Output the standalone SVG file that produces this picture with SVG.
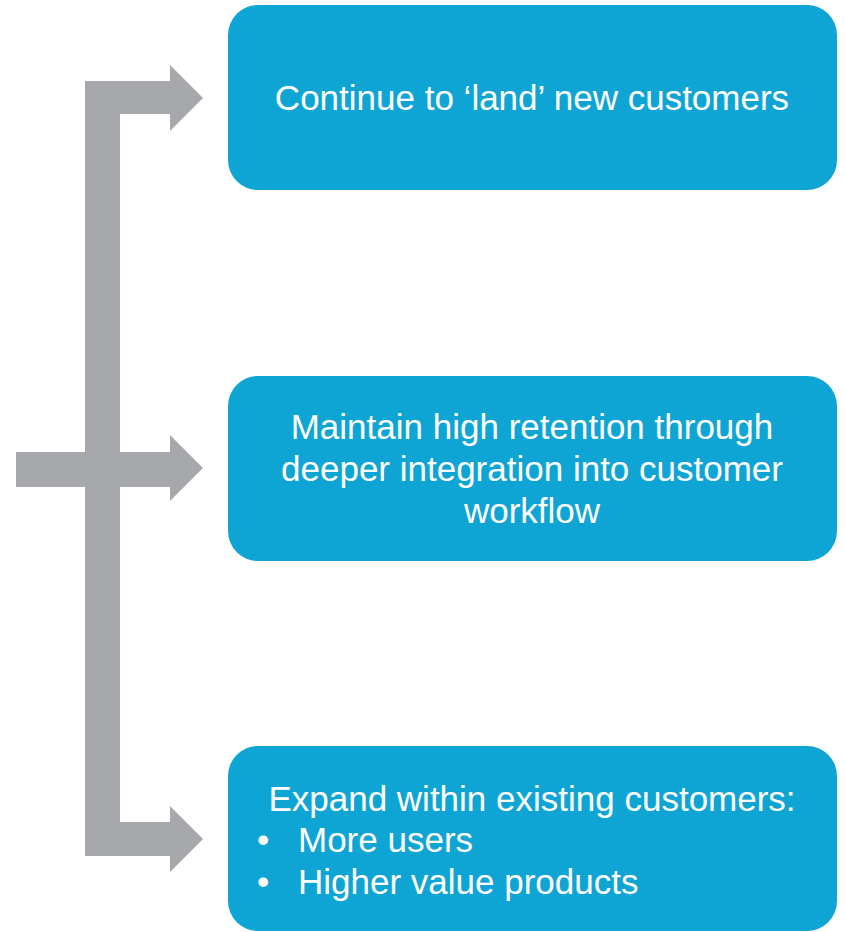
<svg xmlns="http://www.w3.org/2000/svg" width="846" height="932" viewBox="0 0 846 932">
<style>
.box{fill:#0EA5D5;}
.arr{fill:#A7A8AB;}
text{font-family:"Liberation Sans",Arial,sans-serif;font-size:35px;fill:#FFFFFF;}
.c{text-anchor:middle;}
</style>
<rect width="846" height="932" fill="#FFFFFF"/>
<g id="connectors">
<path class="arr" d="M85,81 H170 V65 L203,98 L170,131 V114 H120 V452 H170 V435 L203,468 L170,501 V487 H120 V822 H170 V806 L203,839 L170,872 V856 H85 V487 H16 V452 H85 Z"/>
</g>
<g id="node1">
<rect class="box" x="228" y="5" width="609" height="185" rx="30" ry="30"/>
<text class="c" x="532" y="110">Continue to ‘land’ new customers</text>
</g>
<g id="node2">
<rect class="box" x="228" y="376" width="609" height="185" rx="30" ry="30"/>
<text class="c" x="532" y="439">Maintain high retention through</text>
<text class="c" x="532" y="481">deeper integration into customer</text>
<text class="c" x="532" y="523">workflow</text>
</g>
<g id="node3">
<rect class="box" x="228" y="746" width="609" height="185" rx="30" ry="30"/>
<text class="c" x="532" y="811">Expand within existing customers:</text>
<text x="257" y="852">•</text>
<text x="298" y="852">More users</text>
<text x="257" y="894">•</text>
<text x="298" y="894">Higher value products</text>
</g>
</svg>
